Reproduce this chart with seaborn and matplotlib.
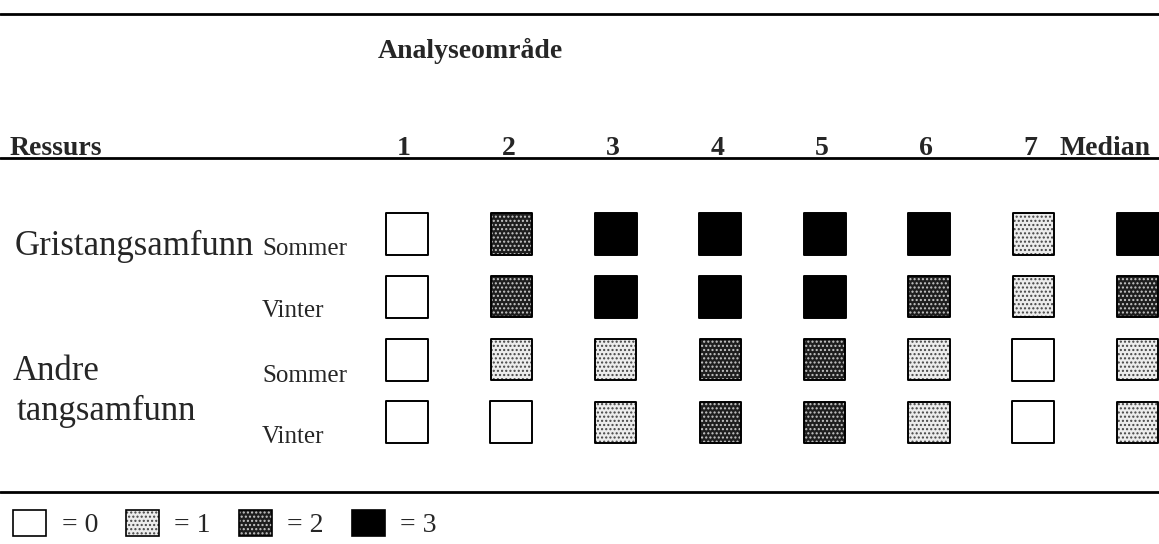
import matplotlib
matplotlib.use("Agg")
import matplotlib.pyplot as plt
import seaborn as sns
import pandas as pd
from matplotlib.lines import Line2D
from matplotlib.patches import Patch
from matplotlib.legend_handler import HandlerTuple

# ---- data ----
columns = ["1", "2", "3", "4", "5", "6", "7", "Median"]
rows = ["Gristangsamfunn Sommer", "Gristangsamfunn Vinter", "Andre Sommer", "Andre Vinter"]
grist_sommer = [0, 2, 3, 3, 3, 3, 1, 3]
grist_vinter = [0, 2, 3, 3, 3, 2, 1, 2]
andre_sommer = [0, 1, 1, 2, 2, 1, 0, 1]
andre_vinter = [0, 0, 1, 2, 2, 1, 0, 1]
levels = [0, 1, 2, 3]
legend_labels = ["= 0", "= 1", "= 2", "= 3"]

W, H = 1159, 544
sns.set_theme(style="white")
plt.rcParams['font.family'] = ['Liberation Serif', 'DejaVu Serif']

fig = plt.figure(figsize=(W / 100, H / 100), dpi=100)

def fx(x):
    return x / W

def fy(y):
    return 1 - y / H

# long-form table
records = []
for r, vals in enumerate([grist_sommer, grist_vinter, andre_sommer, andre_vinter]):
    for c, v in enumerate(vals):
        records.append({"col": c, "row": r, "level": v})
df = pd.DataFrame(records)

# axes for the square grid
col0, spacing = 407, 104.4
row0, rspacing = 234, 62.8
left = col0 - spacing * 0.5
right = W
top = row0 - rspacing * 0.5
bottom = row0 + rspacing * 3.5
ax = fig.add_axes([fx(left), fy(bottom), (right - left) / W, (bottom - top) / H])
ax.set_xlim(-0.5, (right - col0) / spacing)
ax.set_ylim(3.5, -0.5)
ax.axis("off")

face = {0: "white", 1: "#ececec", 2: "#1e1e1e", 3: "black"}
hatchcol = {1: "#444444", 2: "#c8c8c8"}
msize = 29.6 ** 2
for lv in levels:
    sub = df[df["level"] == lv]
    if sub.empty:
        continue
    if lv in (1, 2):
        sns.scatterplot(data=sub, x="col", y="row", marker="s", s=msize, color=face[lv],
                        edgecolor=hatchcol[lv], linewidth=0, ax=ax, legend=False)
        ax.collections[-1].set_hatch("....")
    sns.scatterplot(data=sub, x="col", y="row", marker="s", s=msize,
                    color=face[lv] if lv in (0, 3) else "none",
                    edgecolor="black", linewidth=1.4, ax=ax, legend=False)
    if lv in (1, 2):
        ax.collections[-1].set_facecolor("none")

# header text
hdr = 20
fig.text(fx(378), fy(58), "Analyseområde", fontsize=hdr, fontweight="bold", va="baseline", ha="left")
fig.text(fx(10), fy(155), "Ressurs", fontsize=hdr, fontweight="bold", va="baseline", ha="left")
for c, lab in enumerate(columns[:7]):
    fig.text(fx(col0 + spacing * c - 3), fy(155), lab, fontsize=hdr, fontweight="bold",
             va="baseline", ha="center")
fig.text(fx(1150), fy(155), columns[7], fontsize=hdr, fontweight="bold", va="baseline", ha="right")

# row labels
big, small = 25, 18
fig.text(fx(15), fy(255), "Gristangsamfunn", fontsize=big, va="baseline", ha="left")
fig.text(fx(262), fy(255), "Sommer", fontsize=small, va="baseline", ha="left")
fig.text(fx(262), fy(317), "Vinter", fontsize=small, va="baseline", ha="left")
fig.text(fx(13), fy(380), "Andre", fontsize=big, va="baseline", ha="left")
fig.text(fx(17), fy(420), "tangsamfunn", fontsize=big, va="baseline", ha="left")
fig.text(fx(262), fy(382), "Sommer", fontsize=small, va="baseline", ha="left")
fig.text(fx(262), fy(443), "Vinter", fontsize=small, va="baseline", ha="left")

# rules
for y in (14, 158, 492):
    fig.add_artist(Line2D([0, 1], [fy(y), fy(y)], color="black", lw=2.0, transform=fig.transFigure))

# legend
h0 = Patch(facecolor="white", edgecolor="black", linewidth=1.2)
h1 = (Patch(facecolor=face[1], edgecolor=hatchcol[1], hatch="....", linewidth=0),
      Patch(facecolor="none", edgecolor="black", linewidth=1.2))
h2 = (Patch(facecolor=face[2], edgecolor=hatchcol[2], hatch="....", linewidth=0),
      Patch(facecolor="none", edgecolor="black", linewidth=1.2))
h3 = Patch(facecolor="black", edgecolor="black", linewidth=1.2)
fig.legend([h0, h1, h2, h3], legend_labels, loc="center left", bbox_to_anchor=(fx(13), fy(524)),
           ncol=4, frameon=False, fontsize=20, handlelength=1.2, handleheight=1.1,
           handletextpad=0.55, columnspacing=1.0, borderaxespad=0, borderpad=0,
           handler_map={tuple: HandlerTuple(ndivide=1, pad=0)})

fig.savefig("out.png", dpi=100)
